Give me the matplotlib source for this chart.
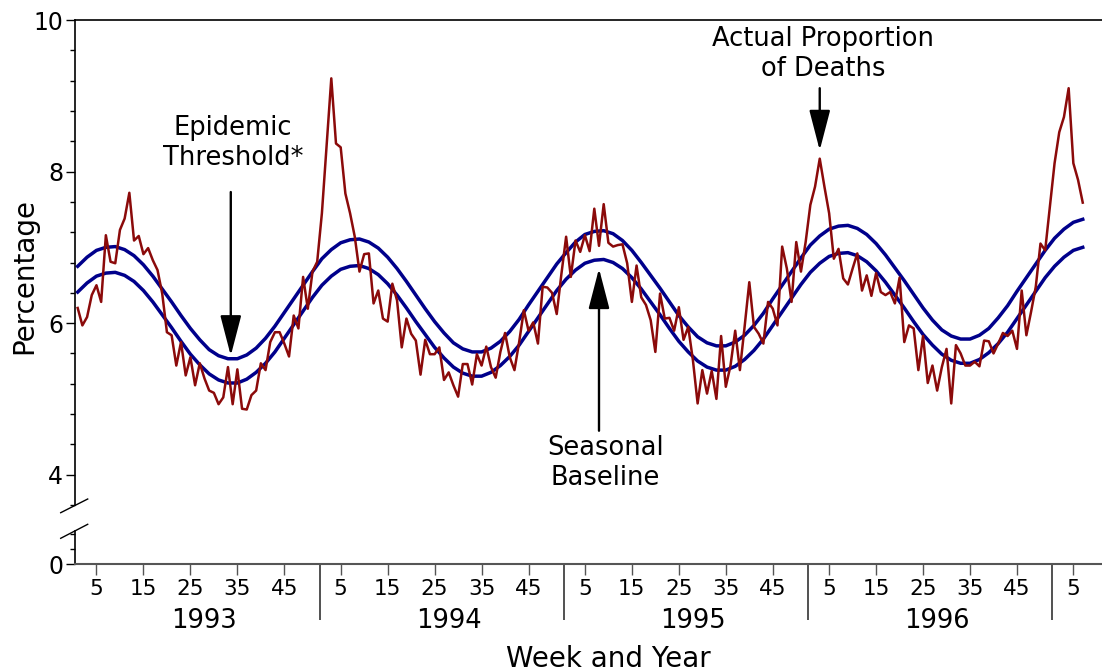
import numpy as np
import matplotlib.pyplot as plt
import matplotlib.transforms as mtransforms
from matplotlib.lines import Line2D

plt.rcParams['font.family'] = 'DejaVu Sans'

# weekly proportion of deaths (%), starting week 1 of 1993
pct_1993 = [6.20, 5.97, 6.08, 6.37, 6.50, 6.28, 7.16, 6.81, 6.79, 7.23,
            7.38, 7.72, 7.09, 7.15, 6.91, 6.99, 6.83, 6.70, 6.39, 5.88,
            5.84, 5.44, 5.75, 5.31, 5.55, 5.18, 5.47, 5.27, 5.11, 5.08,
            4.93, 5.02, 5.42, 4.93, 5.39, 4.87, 4.86, 5.05, 5.11, 5.47,
            5.38, 5.75, 5.88, 5.88, 5.73, 5.56, 6.10, 5.93, 6.61, 6.19,
            6.68, 6.81]
pct_1994 = [7.45, 8.35, 9.23, 8.37, 8.32, 7.71, 7.45, 7.14, 6.68, 6.91,
            6.92, 6.26, 6.43, 6.06, 6.02, 6.52, 6.30, 5.68, 6.06, 5.86,
            5.77, 5.32, 5.78, 5.59, 5.59, 5.68, 5.25, 5.35, 5.18, 5.03,
            5.46, 5.46, 5.19, 5.59, 5.44, 5.69, 5.42, 5.28, 5.62, 5.87,
            5.55, 5.38, 5.75, 6.17, 5.90, 6.01, 5.73, 6.48, 6.47, 6.40,
            6.12, 6.65]
pct_1995 = [7.14, 6.61, 7.09, 6.94, 7.16, 6.95, 7.51, 7.02, 7.57, 7.06,
            7.01, 7.03, 7.04, 6.79, 6.28, 6.76, 6.34, 6.24, 6.04, 5.62,
            6.39, 6.06, 6.07, 5.90, 6.21, 5.78, 5.95, 5.51, 4.94, 5.38,
            5.07, 5.37, 5.00, 5.83, 5.16, 5.44, 5.90, 5.38, 5.95, 6.54,
            5.95, 5.86, 5.73, 6.28, 6.19, 5.97, 7.01, 6.72, 6.28, 7.07,
            6.68, 7.07]
pct_1996 = [7.56, 7.80, 8.17, 7.80, 7.45, 6.85, 6.98, 6.59, 6.51, 6.72,
            6.92, 6.43, 6.63, 6.36, 6.66, 6.41, 6.37, 6.41, 6.26, 6.60,
            5.75, 5.97, 5.93, 5.38, 5.83, 5.21, 5.44, 5.11, 5.42, 5.66,
            4.94, 5.71, 5.60, 5.44, 5.44, 5.49, 5.43, 5.77, 5.76, 5.60,
            5.73, 5.87, 5.83, 5.90, 5.66, 6.43, 5.84, 6.15, 6.48, 7.05,
            6.96, 7.53]
pct_1997 = [8.11, 8.52, 8.72, 9.10, 8.11, 7.89, 7.59]

actual = pct_1993 + pct_1994 + pct_1995 + pct_1996 + pct_1997
weeks = np.arange(1, len(actual) + 1)

curve_weeks = list(range(1, 216, 2))
baseline = [6.41, 6.53, 6.62, 6.66, 6.67, 6.63, 6.55, 6.43, 6.28, 6.11, 5.94, 5.76, 5.59,
            5.45, 5.33, 5.25, 5.21, 5.21, 5.26, 5.35, 5.47, 5.62, 5.80, 5.98, 6.16, 6.34,
            6.50, 6.62, 6.71, 6.75, 6.76, 6.72, 6.64, 6.52, 6.37, 6.20, 6.02, 5.85, 5.68,
            5.54, 5.42, 5.34, 5.30, 5.30, 5.35, 5.44, 5.56, 5.71, 5.89, 6.07, 6.25, 6.43,
            6.58, 6.70, 6.79, 6.83, 6.84, 6.80, 6.72, 6.60, 6.45, 6.28, 6.11, 5.93, 5.76,
            5.62, 5.50, 5.42, 5.38, 5.38, 5.43, 5.52, 5.64, 5.79, 5.97, 6.15, 6.33, 6.51,
            6.67, 6.79, 6.88, 6.92, 6.93, 6.89, 6.81, 6.69, 6.54, 6.37, 6.20, 6.02, 5.85,
            5.71, 5.59, 5.51, 5.47, 5.47, 5.52, 5.61, 5.73, 5.88, 6.06, 6.24, 6.42, 6.60,
            6.75, 6.87, 6.96, 7.00]
threshold = [6.75, 6.87, 6.96, 7.00, 7.01, 6.97, 6.89, 6.77, 6.62, 6.45, 6.28, 6.10, 5.93,
             5.78, 5.65, 5.57, 5.53, 5.53, 5.58, 5.67, 5.80, 5.96, 6.14, 6.32, 6.50, 6.68,
             6.85, 6.97, 7.06, 7.10, 7.11, 7.07, 6.99, 6.87, 6.72, 6.55, 6.37, 6.19, 6.02,
             5.87, 5.74, 5.66, 5.62, 5.62, 5.67, 5.76, 5.89, 6.05, 6.24, 6.42, 6.60, 6.78,
             6.93, 7.07, 7.17, 7.21, 7.22, 7.18, 7.09, 6.96, 6.80, 6.63, 6.46, 6.28, 6.10,
             5.95, 5.82, 5.74, 5.70, 5.70, 5.75, 5.84, 5.97, 6.13, 6.32, 6.50, 6.68, 6.86,
             7.03, 7.15, 7.24, 7.28, 7.29, 7.25, 7.17, 7.05, 6.90, 6.73, 6.56, 6.38, 6.20,
             6.04, 5.91, 5.83, 5.79, 5.79, 5.84, 5.93, 6.07, 6.23, 6.42, 6.60, 6.78, 6.96,
             7.12, 7.24, 7.33, 7.37]

years = ['1993', '1994', '1995', '1996']
week_labels = ['5', '15', '25', '35', '45']

red = '#8b0a0a'
blue = '#00008b'

W, H = 1102, 671
fig = plt.figure(figsize=(W / 100, H / 100), dpi=100)
left = 75 / W
ax = fig.add_axes([left, 1 - 505 / H, 1 - left, (505 - 20) / H])
axb = fig.add_axes([left, 1 - 564 / H, 1 - left, (564 - 531) / H])

ax.plot(weeks, actual, color=red, lw=1.8, zorder=3)
ax.plot(curve_weeks, threshold, color=blue, lw=2.5, zorder=2)
ax.plot(curve_weeks, baseline, color=blue, lw=2.5, zorder=2)

xlim = (0.43, 219.1)
ax.set_xlim(xlim)
ax.set_ylim(3.6, 10)
ax.set_yticks([4, 6, 8, 10])
ax.set_yticks(np.arange(3.6, 10.01, 0.4), minor=True)
ax.spines['right'].set_visible(False)
ax.spines['bottom'].set_visible(False)
ax.spines['top'].set_linewidth(1.2)
ax.spines['left'].set_linewidth(1.2)
ax.tick_params(axis='y', which='major', length=6.5, width=1, labelsize=17, pad=2)
ax.tick_params(axis='y', which='minor', length=3.5, width=1)
ax.tick_params(axis='x', which='both', bottom=False, labelbottom=False)

# lower stub of the broken axis
axb.set_xlim(xlim)
axb.set_ylim(0, 0.436)
axb.set_yticks([0])
axb.set_yticks([0.2, 0.4], minor=True)
axb.patch.set_alpha(0)
axb.spines['top'].set_visible(False)
axb.spines['right'].set_visible(False)
axb.spines['left'].set_linewidth(1.2)
axb.spines['bottom'].set_color('#555555')
axb.spines['bottom'].set_linewidth(1.5)
axb.tick_params(axis='y', which='major', length=6.5, width=1, labelsize=17, pad=2)
axb.tick_params(axis='y', which='minor', length=3.5, width=1)

tick_pos = [k * 52 + int(w) for k in range(4) for w in week_labels] + [4 * 52 + 5]
axb.set_xticks(tick_pos)
axb.set_xticklabels(week_labels * 4 + ['5'])
axb.set_xticks([k * 52 + 52.5 for k in range(4)], minor=True)
axb.tick_params(axis='x', which='major', length=8, width=1, color='#555555',
                labelsize=15.5, pad=3)
axb.tick_params(axis='x', which='minor', length=40, width=1.2, color='#333333')

trans = mtransforms.blended_transform_factory(axb.transData, fig.transFigure)
for k, yr in enumerate(years):
    axb.text(k * 52 + 28, 1 - 621 / H, yr, transform=trans, ha='center',
             va='center', fontsize=18.5)

fig.text(0.552, 1 - 667 / H, 'Week and Year', ha='center', va='baseline', fontsize=20)
fig.text(0.022, 0.589, 'Percentage', rotation=90, ha='center', va='center', fontsize=20)

# break marks on the y axis
for x0, y0, x1, y1 in [(60.7, 512.7, 87.7, 499), (60.7, 538.3, 87.7, 524.3)]:
    fig.add_artist(Line2D([x0 / W, x1 / W], [1 - y0 / H, 1 - y1 / H],
                          transform=fig.transFigure, color='black', lw=1))

arrow = dict(arrowstyle='-|>,head_length=2.5,head_width=0.65', mutation_scale=10,
             lw=1.7, color='black', shrinkA=0, shrinkB=0)
ax.annotate('', xy=(33.6, 5.57), xytext=(33.6, 7.73), arrowprops=arrow)
ax.annotate('', xy=(159.0, 8.28), xytext=(159.0, 9.10), arrowprops=arrow)
ax.annotate('', xy=(112.0, 6.72), xytext=(112.0, 4.58), arrowprops=arrow)

ax.text(34.1, 8.38, 'Epidemic\nThreshold*', ha='center', va='center',
        fontsize=18.5, linespacing=1.2)
ax.text(159.7, 9.55, 'Actual Proportion\nof Deaths', ha='center', va='center',
        fontsize=18.5, linespacing=1.2)
ax.text(113.3, 4.16, 'Seasonal\nBaseline', ha='center', va='center',
        fontsize=18.5, linespacing=1.2)

fig.savefig('out.png', dpi=100)
